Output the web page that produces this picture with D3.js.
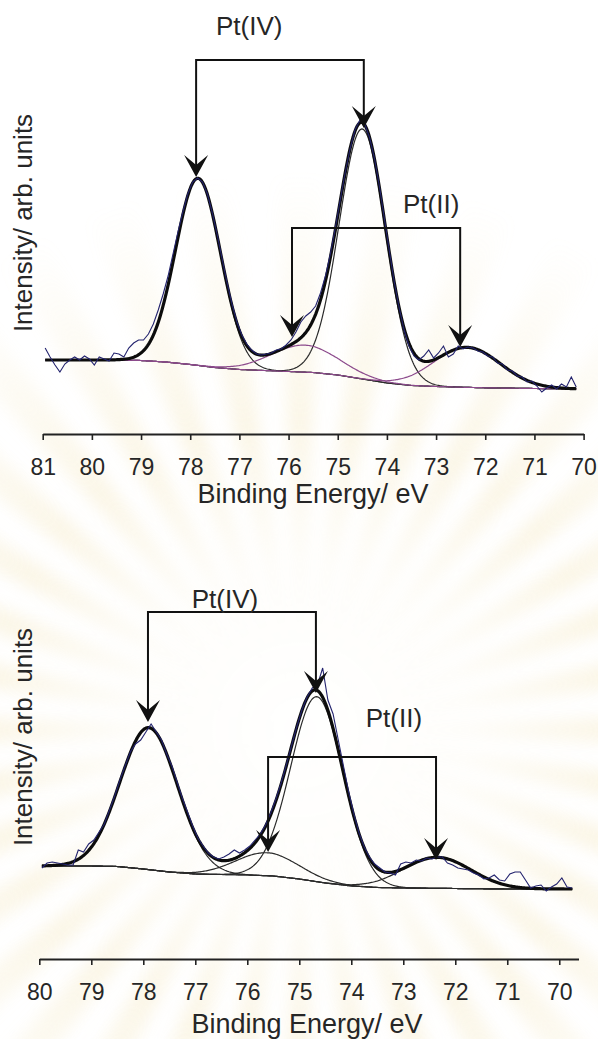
<!DOCTYPE html>
<html>
<head>
<meta charset="utf-8">
<script src="https://cdn.jsdelivr.net/npm/d3@7"></script>
<style>
  body { margin: 0; background: #fff; }
  svg text { font-family: "Liberation Sans", Arial, sans-serif; fill: #262626; }
</style>
</head>
<body>
<svg id="chart" width="598" height="1039"></svg>
<script>
// ---------- DATA ----------
// intensity in arbitrary units, energy in eV
const rawStep = 0.1;

// top spectrum
const topTicks = [81, 80, 79, 78, 77, 76, 75, 74, 73, 72, 71, 70];
const topRawStart = 80.95;
const topRaw = [
  42, 33, 25, 18, 26, 30, 33, 30, 34, 31,
  25, 33, 31, 29, 37, 36, 33, 42, 47, 50,
  50, 56, 66, 80, 96, 114, 136, 158, 178, 196,
  208, 212, 208, 196, 177, 155, 131, 107, 86, 68,
  55, 46, 40, 36, 35, 36, 37, 40, 41, 45,
  50, 58, 68, 74, 78, 84, 97, 114, 136, 162,
  190, 217, 241, 260, 270, 266, 252, 231, 203, 171,
  139, 108, 82, 60, 44, 34, 30, 34, 40, 32,
  37, 44, 33, 36, 44, 41, 43, 42, 39, 38,
  34, 33, 27, 26, 20, 19, 14, 13, 8, 9,
  4, -2, 2, 5, 1, 6, 3, 13, 3
];
const topBgE = [81, 79.4, 79, 78.5, 78, 77.5, 77, 76.5, 76, 75.5, 75, 74.5, 74, 73.5, 73, 72.5, 72, 71, 70];
const topBgI = [30, 30, 29.5, 28, 25.5, 22.5, 20.5, 19.5, 18.5, 17.5, 15, 11, 7, 4.5, 3.5, 2.8, 2.2, 1.5, 1];
// fitted components: Pt(IV) 4f5/2, Pt(IV) 4f7/2, Pt(II) 4f5/2, Pt(II) 4f7/2
const topCenters = [77.84, 74.50, 75.67, 72.37];
const topHeights = [187, 250, 27, 40];
const topFwhm = [1.08, 1.11, 1.60, 1.60];

// bottom spectrum
const botTicks = [80, 79, 78, 77, 76, 75, 74, 73, 72, 71, 70];
const botRawStart = 79.95;
const botRaw = [
  22, 27, 28, 27, 26, 25, 25, 40, 38, 46,
  50, 58, 66, 80, 94, 110, 124, 138, 146, 150,
  158, 166, 158, 150, 136, 124, 108, 92, 78, 64,
  52, 44, 37, 33, 31, 33, 36, 40, 37, 40,
  44, 50, 56, 65, 77, 91, 107, 125, 144, 163,
  180, 193, 202, 205, 222, 190, 176, 150, 124, 98,
  76, 57, 43, 33, 26, 22, 18, 17, 15, 26,
  28, 27, 30, 29, 32, 31, 33, 33, 27, 25,
  22, 21, 20, 17, 15, 11, 12, 15, 10, 9,
  16, 18, 18, 10, 2, 4, 5, -1, 3, 6,
  12, 3, 2
];
const botBgE = [80, 79, 78.5, 78, 77.5, 77, 76.5, 76, 75.5, 75, 74.5, 74, 73.5, 73, 72, 71, 69.6];
const botBgI = [24, 24, 23.5, 21, 18, 16, 15.5, 15, 14, 11, 7, 4, 2.5, 2, 1.5, 1, 1];
const botCenters = [77.89, 74.66, 75.62, 72.35];
const botHeights = [142, 185, 23, 31];
const botFwhm = [1.30, 1.18, 1.41, 1.53];

// annotation brackets: [label, leftE, rightE, topI, leftTipI, rightTipI, labelE, labelI]
const topBrackets = [
  ["Pt(IV)", 77.88, 74.47, 330, 213, 262, 76.80, 355],
  ["Pt(II)", 75.93, 72.51, 162, 53, 43, 73.10, 177]
];
const botBrackets = [
  ["Pt(IV)", 77.91, 74.68, 278, 168, 197, 76.43, 282],
  ["Pt(II)", 75.60, 72.37, 133, 38, 30, 73.18, 163]
];

// ---------- DRAWING ----------
const svg = d3.select("#chart");
const defs = svg.append("defs");

// faint sunburst watermark behind the plots
const fade = defs.append("radialGradient")
  .attr("id", "fade").attr("gradientUnits", "userSpaceOnUse")
  .attr("cx", 300).attr("cy", 730).attr("r", 560);
[[0, 0.1], [0.3, 0.35], [0.55, 1], [0.8, 0.45], [1, 0]].forEach(([o, a]) =>
  fade.append("stop").attr("offset", o).attr("stop-color", "#fff").attr("stop-opacity", a));
defs.append("mask").attr("id", "fadeMask")
  .append("rect").attr("width", 598).attr("height", 1039).attr("fill", "url(#fade)");
defs.append("filter").attr("id", "soft").attr("x", "-20%").attr("y", "-20%").attr("width", "140%").attr("height", "140%")
  .append("feGaussianBlur").attr("stdDeviation", 8);

const rays = svg.append("g").attr("mask", "url(#fadeMask)")
  .append("g").attr("filter", "url(#soft)").attr("opacity", 0.2);
d3.range(36).forEach((i) => {
  const a = (i * 10 * Math.PI) / 180, w = (2.4 * Math.PI) / 180, R = 900;
  rays.append("path")
    .attr("d", `M300,730 L${300 + R * Math.cos(a - w)},${730 + R * Math.sin(a - w)} L${300 + R * Math.cos(a + w)},${730 + R * Math.sin(a + w)} Z`)
    .attr("fill", "#ecd48a");
});

function gauss(e, c, h, fwhm) {
  const s = fwhm / 2.3548;
  return h * Math.exp(-((e - c) * (e - c)) / (2 * s * s));
}

function arrowHead(g, px, py) {
  g.append("path")
    .attr("d", `M${px},${py} L${px - 12},${py - 22} L${px},${py - 12} L${px + 12},${py - 22} Z`)
    .attr("fill", "#111");
}

function drawPanel(p) {
  const x = d3.scaleLinear().domain(p.xDomain).range(p.xRange);
  const y = d3.scaleLinear().domain([0, 300]).range(p.yRange);
  const bg = d3.scaleLinear().domain(p.bgE).range(p.bgI);
  const g = svg.append("g");

  const rawPts = p.raw.map((v, i) => [p.rawStart - i * rawStep, v]);
  const eFirst = rawPts[0][0], eLast = rawPts[rawPts.length - 1][0];
  const fine = d3.range(eFirst, eLast - 0.001, -0.02);
  const line = d3.line().x((d) => x(d[0])).y((d) => y(d[1]));

  /* AXIS */
  const ax = g.append("g")
    .attr("transform", `translate(0,${p.axisY})`)
    .call(d3.axisBottom(x).tickValues(p.ticks).tickSize(6).tickSizeOuter(0)
      .tickPadding(19).tickFormat(d3.format("d")));
  ax.select(".domain").attr("stroke", "#222").attr("stroke-width", 2);
  ax.selectAll(".tick line").attr("stroke", "#222").attr("stroke-width", 1.6);
  ax.selectAll(".tick text")
    .attr("font-family", "'Liberation Sans Narrow', 'Liberation Sans', Arial, sans-serif")
    .attr("font-size", 23).attr("fill", "#262626");

  g.append("text")
    .attr("x", p.titleX).attr("y", p.titleY)
    .attr("text-anchor", "middle").attr("font-size", 27)
    .text("Binding Energy/ eV");
  g.append("text")
    .attr("transform", `translate(32,${p.yLabelY}) rotate(-90)`)
    .attr("text-anchor", "middle").attr("font-size", 26)
    .text("Intensity/ arb. units");

  /* BACKGROUND + COMPONENTS */
  g.append("path")
    .attr("d", line(fine.map((e) => [e, bg(e)])))
    .attr("fill", "none").attr("stroke", "#2a2a2a").attr("stroke-width", 1.1);

  p.centers.forEach((c, k) => {
    g.append("path")
      .attr("d", line(fine.map((e) => [e, bg(e) + gauss(e, c, p.heights[k], p.fwhm[k])])))
      .attr("fill", "none").attr("stroke", p.compColor[k]).attr("stroke-width", 1.2);
  });

  /* ENVELOPE */
  const env = fine.map((e) => [e, bg(e) + d3.sum(p.centers, (c, k) => gauss(e, c, p.heights[k], p.fwhm[k]))]);
  g.append("path")
    .attr("d", line(env))
    .attr("fill", "none").attr("stroke", "#0c0c0c").attr("stroke-width", 3.2)
    .attr("stroke-linejoin", "round");

  /* RAW DATA */
  g.append("path")
    .attr("d", line(rawPts))
    .attr("fill", "none").attr("stroke", "#23236e").attr("stroke-width", 1.1);

  /* ANNOTATIONS */
  p.brackets.forEach(([label, eL, eR, top, tipL, tipR, lE, lI]) => {
    const xl = x(eL), xr = x(eR), yt = y(top);
    g.append("path")
      .attr("d", `M${xl},${y(tipL) - 12} V${yt} H${xr} V${y(tipR) - 12}`)
      .attr("fill", "none").attr("stroke", "#111").attr("stroke-width", 2);
    arrowHead(g, xl, y(tipL));
    arrowHead(g, xr, y(tipR));
    g.append("text")
      .attr("x", x(lE)).attr("y", y(lI))
      .attr("text-anchor", "middle").attr("font-size", 26)
      .text(label);
  });
}

const purple = "#8c4a8c", dark = "#2a2a2a";

drawPanel({
  xDomain: [81, 70], xRange: [42.7, 583.6], yRange: [390, 90], axisY: 434,
  ticks: topTicks, raw: topRaw, rawStart: topRawStart,
  bgE: topBgE, bgI: topBgI,
  centers: topCenters, heights: topHeights, fwhm: topFwhm,
  compColor: [dark, dark, purple, purple],
  brackets: topBrackets,
  titleX: 313, titleY: 503, yLabelY: 223
});

drawPanel({
  xDomain: [80, 69.63], xRange: [39.3, 578.5], yRange: [890, 590], axisY: 959,
  ticks: botTicks, raw: botRaw, rawStart: botRawStart,
  bgE: botBgE, bgI: botBgI,
  centers: botCenters, heights: botHeights, fwhm: botFwhm,
  compColor: [dark, dark, dark, dark],
  brackets: botBrackets,
  titleX: 307, titleY: 1033, yLabelY: 737
});
</script>
</body>
</html>
